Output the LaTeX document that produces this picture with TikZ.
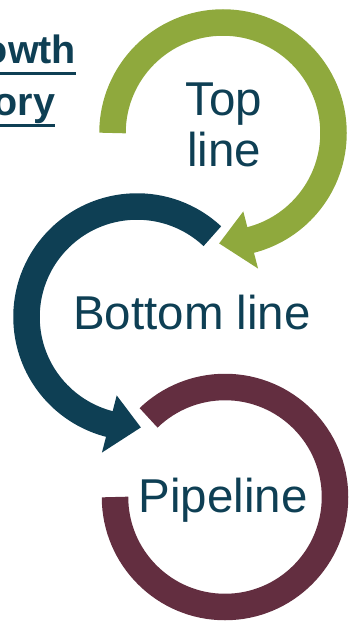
\documentclass[tikz,border=0pt]{standalone}
\usepackage{fontspec}
\setmainfont{Liberation Sans}
\definecolor{grn}{RGB}{143,169,61}
\definecolor{teal}{RGB}{14,63,84}
\definecolor{maroon}{RGB}{99,46,64}
\newcommand\myul[1]{\setbox0\hbox{#1}\rlap{\rule[-11pt]{\wd0}{3pt}}\box0}
\begin{document}
\begin{tikzpicture}[x=1pt,y=1pt,
  ring/.style={line width=26.5pt},
  lbl/.style={inner sep=0pt, text=teal, font=\fontsize{47.5}{51}\selectfont, align=center},
  ttl/.style={inner sep=0pt, text=teal, font=\bfseries\fontsize{39.5}{52}\selectfont, align=center}]
\useasboundingbox (0,0) rectangle (349,-621);
\clip (0,0) rectangle (349,-621);
\coordinate (gc) at (223,-133);
\coordinate (bc) at (137,-317);
\coordinate (mc) at (225,-497);
% green arrow (Top line)
\draw[ring, grn] ([shift={(180:110.5)}]gc) arc[start angle=180, end angle=-76, radius=110.5];
\fill[grn] ([shift={(-75.5:81)}]gc) -- ([shift={(-75.5:140)}]gc) -- ([shift={(-92:110.5)}]gc) -- cycle;
% blue arrow (Bottom line)
\draw[ring, teal] ([shift={(47:110.5)}]bc) arc[start angle=47, end angle=256, radius=110.5];
\fill[teal] ([shift={(255.5:81)}]bc) -- ([shift={(255.5:140)}]bc) -- ([shift={(272:110.5)}]bc) -- cycle;
% maroon ring (Pipeline)
\draw[ring, maroon] ([shift={(180:110)}]mc) arc[start angle=180, end angle=494, radius=110];
% labels
\node[lbl, anchor=north] (top) at (224,-83) {Top\\line};
\node[lbl, anchor=base] (bottom) at (192,-329) {Bottom line};
\node[lbl, anchor=base] (pipe) at (223,-512) {Pipeline};
\node[ttl, anchor=north] (growth) at (7,-35) {\myul{Growth}\\\myul{story}};
\end{tikzpicture}
\end{document}
